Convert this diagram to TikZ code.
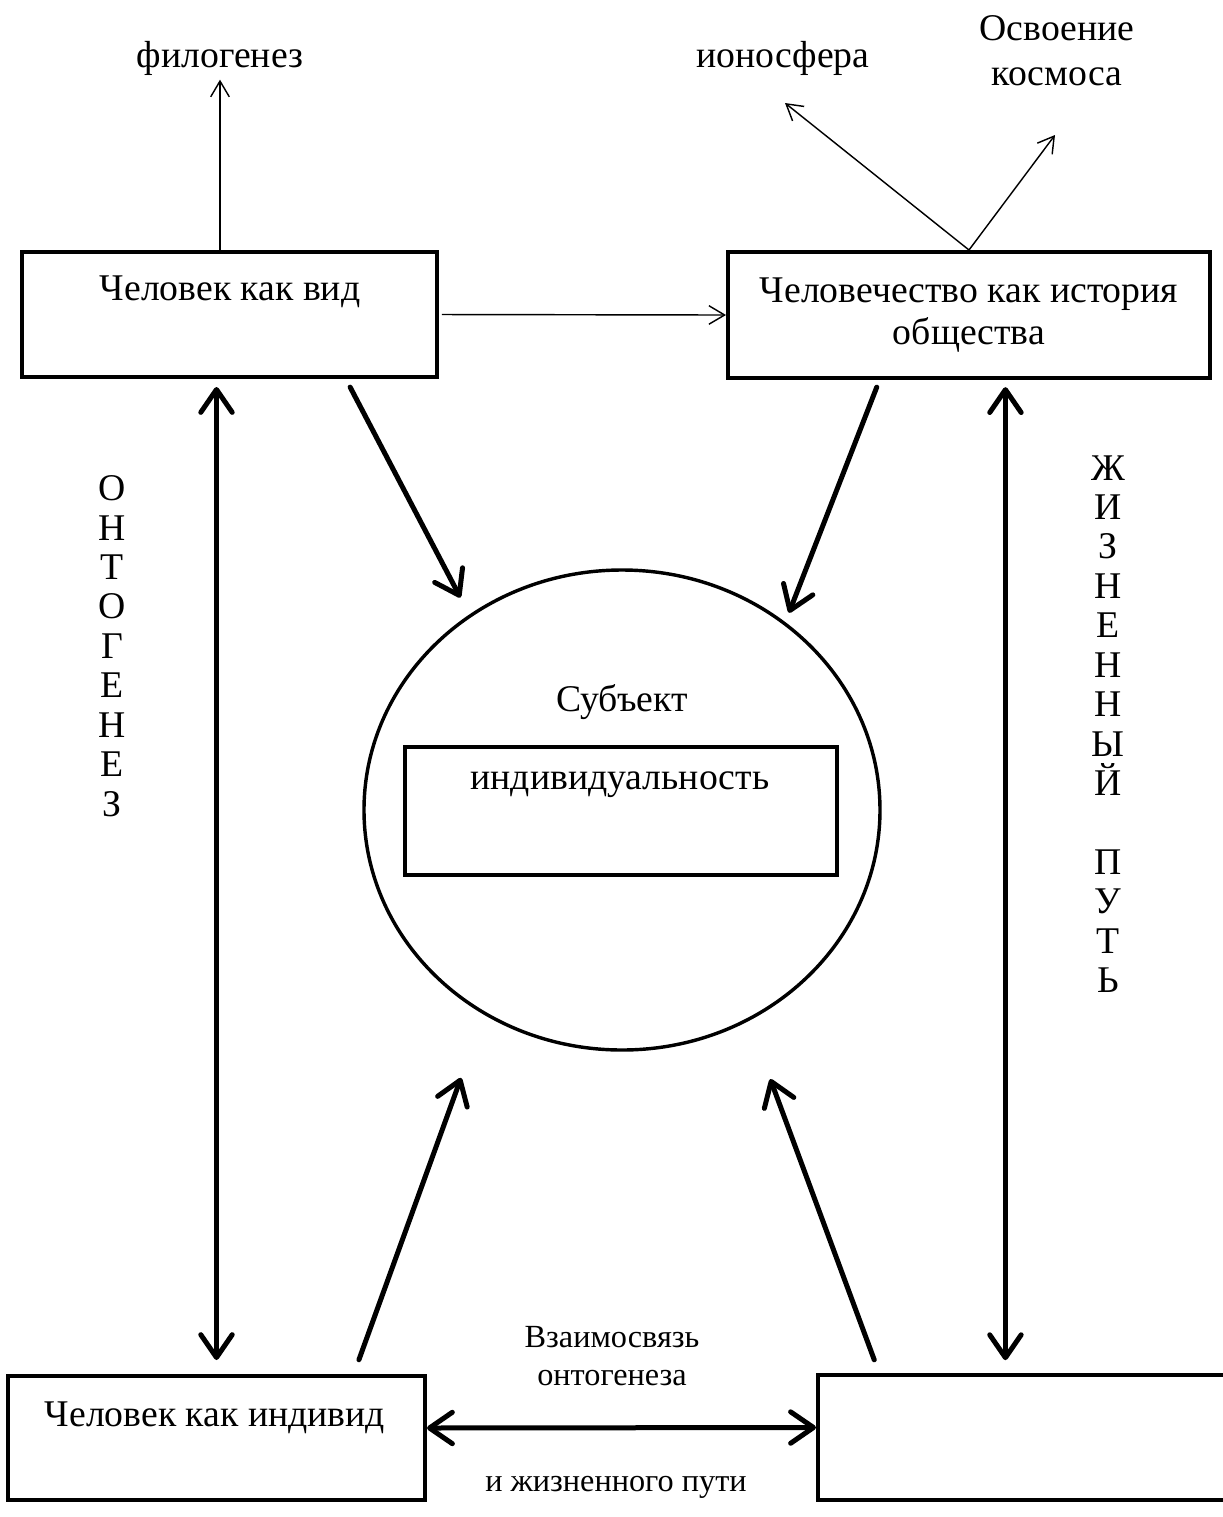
\documentclass[tikz,border=0pt]{standalone}
\usepackage{fontspec}
\setmainfont{Liberation Serif}
\usetikzlibrary{arrows.meta}
\usetikzlibrary{shapes.geometric}
\usetikzlibrary{calc}
\newdimen\pxu
\pxu=0.35pt

\begin{document}
\begin{tikzpicture}[
        x=0.35pt, y=-0.35pt,
        every node/.style = {
        font=\fontsize{13.2}{15}\selectfont
        },
        box/.style = {draw, line width=1.4pt, inner sep=0pt},
        txt/.style = {inner sep=0pt, align=center},
        small/.style = {txt, font=\fontsize{11.3}{13.3}\selectfont},
        letters/.style = {txt, font=\fontsize{13.2}{13.8}\selectfont},
        thin arrow/.style = {line width=0.5pt, -{Straight Barb[length=5.5pt,width=6.5pt]}},
        thick arrow/.style = {line width=1.75pt, line cap=round,
        -{Straight Barb[length=8pt,width=11pt,round]}},
        both arrow/.style = {line width=1.75pt, line cap=round,
        {Straight Barb[length=8pt,width=11pt,round]}-{Straight Barb[length=8pt,width=11pt,round]}}
        ]
        \useasboundingbox (0,0) rectangle (1223,1517);

        \node[box, minimum width=415*\pxu, minimum height=125*\pxu] (vid) at (229.5,314.5) {};
        \node[box, align=center, minimum width=482*\pxu, minimum height=126*\pxu] (ist) at (969,315)
            {Человечество как история\\общества};
        \node[box, minimum width=417*\pxu, minimum height=124*\pxu] (ind) at (216.5,1438) {};
        \node[box, minimum width=412*\pxu, minimum height=125*\pxu] (emp) at (1024,1437.5) {};
        \node[draw, ellipse, line width=1.2pt, inner sep=0pt,
            minimum width=516*\pxu, minimum height=480*\pxu] (subj) at (622,810) {};
        \node[box, minimum width=432*\pxu, minimum height=128*\pxu] (indiv) at (621,811) {};

        \node[txt] (vidtxt) at (230,292) {Человек как вид};
        \node[txt] (indtxt) at (215,1418) {Человек как индивид};
        \node[txt] (indivtxt) at (620,785) {индивидуальность};
        \node[txt] (subjtxt) at (622,702) {Субъект};
        \node[txt] (phil) at (220,58) {филогенез};
        \node[txt] (iono) at (783,58) {ионосфера};
        \node[txt, font=\fontsize{13.2}{15.75}\selectfont] (kosmos) at (1057,50.5) {Освоение\\космоса};
        \node[small] (link) at (612,1356) {Взаимосвязь\\онтогенеза};
        \node[small] (path) at (616,1487) {и жизненного пути};
        \node[letters] (onto) at (112,646) {О\\Н\\Т\\О\\Г\\Е\\Н\\Е\\З};
        \node[letters] (life) at (1108,724) {Ж\\И\\З\\Н\\Е\\Н\\Н\\Ы\\Й\\[13.8pt]П\\У\\Т\\Ь};

        \coordinate (ionotip) at (785,103);
        \coordinate (kostip) at (1055,135);
        \coordinate (rr) at ($(ist.south)!0.15!(ist.south east)$);

        \draw[thin arrow, shorten >=1.4pt] (phil.south |- vid.north) -- (phil.south);
        \draw[thin arrow, shorten <=1pt] (vid.east) -- (ist.west);
        \draw[thin arrow] (ist.north) -- (ionotip);
        \draw[thin arrow] (ist.north) -- (kostip);

        \draw[thick arrow, shorten <=3.2pt, shorten >=6.7pt] (vid.-29.8) -- (subj.128.4);
        \draw[thick arrow, shorten <=2.7pt, shorten >=3.5pt] (ist.216.2) -- (subj.49.9);
        \draw[thick arrow, shorten <=5.3pt, shorten >=23.5pt] (ind.25.8) -- (subj.236.8);
        \draw[thick arrow, shorten <=4.9pt, shorten >=21.7pt] (emp.156.1) -- (subj.301);

        \draw[both arrow, shorten <=2.8pt, shorten >=4.9pt] (ind.north |- vid.south) -- (ind.north);
        \draw[both arrow, shorten <=2.5pt, shorten >=4.5pt] (rr) -- (rr |- emp.north);
        \draw[both arrow] ([yshift=3.5pt]ind.east) -- ([yshift=3.5pt]emp.west);
    \end{tikzpicture}
\end{document}
